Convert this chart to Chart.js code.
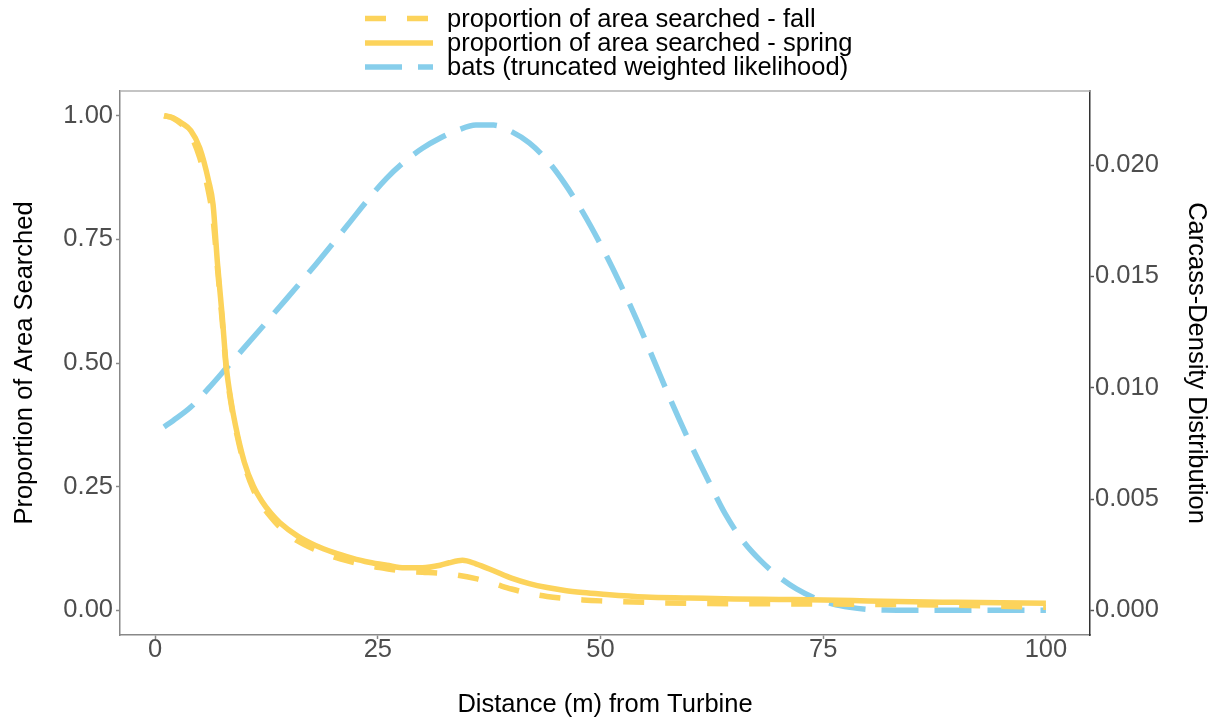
<!DOCTYPE html>
<html>
<head>
<meta charset="utf-8">
<script src="https://cdn.jsdelivr.net/npm/chart.js@4.4.1/dist/chart.umd.min.js"></script>
<style>
  html, body { margin: 0; padding: 0; background: #ffffff; }
  #wrap { width: 1215px; height: 719px; }
</style>
</head>
<body>
<div id="wrap"><canvas id="c" width="1215" height="719"></canvas></div>
<script>
// Proportion of area searched, fall season
const fallDistance   = [1, 2, 3, 4, 5, 6, 6.5, 7, 7.5, 8, 8.5, 9, 10, 11, 12, 13, 14, 16, 18, 20, 22, 24, 26, 28, 30, 32, 34, 36, 38, 40, 42, 44, 46, 48, 50, 55, 60, 70, 80, 90, 95, 100];
const fallProportion = [1.000, 0.995, 0.982, 0.960, 0.915, 0.845, 0.790, 0.690, 0.590, 0.485, 0.420, 0.370, 0.295, 0.245, 0.212, 0.188, 0.168, 0.140, 0.122, 0.108, 0.098, 0.090, 0.084, 0.079, 0.077, 0.075, 0.071, 0.064, 0.054, 0.043, 0.034, 0.028, 0.024, 0.021, 0.019, 0.016, 0.014, 0.013, 0.012, 0.010, 0.008, 0.006];

// Proportion of area searched, spring season
const springDistance   = [1, 2, 3, 4, 5, 6, 6.5, 7, 7.5, 8, 8.5, 9, 10, 11, 12, 13, 14, 16, 18, 20, 22, 24, 26, 28, 30, 32, 33, 34.5, 36, 38, 40, 42, 44, 46, 48, 50, 55, 60, 65, 70, 75, 80, 85, 90, 95, 100];
const springProportion = [1.000, 0.996, 0.985, 0.970, 0.935, 0.868, 0.820, 0.700, 0.600, 0.490, 0.425, 0.375, 0.300, 0.252, 0.220, 0.196, 0.177, 0.150, 0.131, 0.117, 0.106, 0.097, 0.091, 0.086, 0.086, 0.091, 0.096, 0.101, 0.094, 0.080, 0.065, 0.054, 0.046, 0.040, 0.036, 0.033, 0.027, 0.025, 0.023, 0.022, 0.021, 0.019, 0.017, 0.016, 0.015, 0.014];

// Bat carcass-density distribution (truncated weighted likelihood)
const batDistance = [1, 2, 4, 6, 8, 10, 12, 14, 16, 18, 20, 22, 24, 26, 28, 30, 32, 34, 36, 38, 40, 42, 44, 46, 48, 50, 52, 54, 56, 58, 60, 62, 64, 66, 68, 70, 72, 74, 76, 78, 80, 82, 85, 90, 95, 100];
const batDensity  = [0.00824, 0.00852, 0.00913, 0.00998, 0.01089, 0.01180, 0.01272, 0.01365, 0.01458, 0.01553, 0.01651, 0.01751, 0.01851, 0.01942, 0.02016, 0.02076, 0.02122, 0.02158, 0.02180, 0.02180, 0.02151, 0.02100, 0.02022, 0.01916, 0.01789, 0.01644, 0.01484, 0.01311, 0.01122, 0.00933, 0.00756, 0.00591, 0.00433, 0.00311, 0.00222, 0.00151, 0.00096, 0.00056, 0.00029, 0.00013, 0.00004, 0.00001, 0, 0, 0, 0];

// Axis ticks
const distanceTicks   = [0, 25, 50, 75, 100];
const proportionTicks = [0, 0.25, 0.5, 0.75, 1];
const densityTicks    = [0, 0.005, 0.01, 0.015, 0.02];

// Secondary axis: one density unit equals 45 proportion units
const densityToProportion = 45;

const seriesLabels = [
  'proportion of area searched - fall',
  'proportion of area searched - spring',
  'bats (truncated weighted likelihood)'
];

const YELLOW = '#FCD35B';
const BLUE = '#87CEEB';
const FONT = '"Liberation Sans", Arial, sans-serif';
const FONT_SIZE = 25.5;

const toPoints = (xs, ys) => xs.map((x, i) => ({ x: x, y: ys[i] }));

// Stacked legend above the panel, one entry per row
const stackedLegend = {
  id: 'stackedLegend',
  afterDraw(chart) {
    const ctx = chart.ctx;
    const rows = [18.5, 43, 67];
    chart.data.datasets.forEach((ds, i) => {
      const y = rows[i];
      ctx.save();
      ctx.strokeStyle = ds.borderColor;
      ctx.lineWidth = ds.borderWidth;
      ctx.lineCap = 'butt';
      ctx.setLineDash(ds.borderDash || []);
      ctx.beginPath();
      ctx.moveTo(365, y);
      ctx.lineTo(433, y);
      ctx.stroke();
      ctx.setLineDash([]);
      ctx.fillStyle = '#000000';
      ctx.font = FONT_SIZE + 'px ' + FONT;
      ctx.textBaseline = 'middle';
      ctx.textAlign = 'left';
      ctx.fillText(ds.label, 447, y + 1);
      ctx.restore();
    });
  }
};

// Top edge of the panel box
const panelTop = {
  id: 'panelTop',
  afterDraw(chart) {
    const { ctx, chartArea } = chart;
    ctx.save();
    ctx.strokeStyle = '#b0b0b0';
    ctx.lineWidth = 1.5;
    ctx.beginPath();
    ctx.moveTo(chartArea.left, chartArea.top);
    ctx.lineTo(chartArea.right, chartArea.top);
    ctx.stroke();
    ctx.restore();
  }
};

const tickFont = { family: FONT, size: FONT_SIZE };
const titleFont = { family: FONT, size: FONT_SIZE };

new Chart(document.getElementById('c'), {
  type: 'line',
  data: {
    datasets: [
      {
        label: seriesLabels[0],
        data: toPoints(fallDistance, fallProportion),
        borderColor: YELLOW,
        borderWidth: 5.5,
        borderDash: [21, 21],
        borderCapStyle: 'butt',
        cubicInterpolationMode: 'monotone',
        pointRadius: 0,
        yAxisID: 'y',
        order: 1
      },
      {
        label: seriesLabels[1],
        data: toPoints(springDistance, springProportion),
        borderColor: YELLOW,
        borderWidth: 5.5,
        borderCapStyle: 'butt',
        cubicInterpolationMode: 'monotone',
        pointRadius: 0,
        yAxisID: 'y',
        order: 2
      },
      {
        label: seriesLabels[2],
        data: toPoints(batDistance, batDensity),
        borderColor: BLUE,
        borderWidth: 5.5,
        borderDash: [37, 16],
        borderCapStyle: 'butt',
        cubicInterpolationMode: 'monotone',
        pointRadius: 0,
        yAxisID: 'y1',
        order: 3
      }
    ]
  },
  options: {
    responsive: false,
    animation: false,
    devicePixelRatio: 1,
    layout: { padding: { top: 91, left: 0, right: 0, bottom: 0 } },
    plugins: {
      legend: { display: false },
      tooltip: { enabled: false }
    },
    scales: {
      x: {
        type: 'linear',
        min: -3.95,
        max: 104.95,
        afterFit(scale) { scale.height = 84; },
        afterBuildTicks(scale) { scale.ticks = distanceTicks.map(v => ({ value: v })); },
        ticks: {
          font: tickFont,
          color: '#4d4d4d',
          padding: -4,
          maxRotation: 0,
          callback: v => String(v)
        },
        grid: { drawOnChartArea: false, drawTicks: true, tickLength: 4, color: '#888888', tickWidth: 1.5 },
        border: { display: true, color: '#888888', width: 1.5 },
        title: {
          display: true,
          text: 'Distance (m) from Turbine',
          font: titleFont,
          color: '#000000',
          padding: { top: 0, bottom: -1 }
        }
      },
      y: {
        type: 'linear',
        position: 'left',
        min: -0.05,
        max: 1.05,
        afterFit(scale) { scale.width = 120; },
        afterBuildTicks(scale) { scale.ticks = proportionTicks.map(v => ({ value: v })); },
        ticks: {
          font: tickFont,
          color: '#4d4d4d',
          padding: 3,
          callback: v => Number(v).toFixed(2)
        },
        grid: { drawOnChartArea: false, drawTicks: true, tickLength: 4, color: '#888888', tickWidth: 1.5 },
        border: { display: true, color: '#888888', width: 1.5 },
        title: {
          display: true,
          text: 'Proportion of Area Searched',
          font: titleFont,
          color: '#000000',
          padding: { top: 10, bottom: 0 }
        }
      },
      y1: {
        type: 'linear',
        position: 'right',
        min: -0.05 / densityToProportion,
        max: 1.05 / densityToProportion,
        afterFit(scale) { scale.width = 125; },
        afterBuildTicks(scale) { scale.ticks = densityTicks.map(v => ({ value: v })); },
        ticks: {
          font: tickFont,
          color: '#4d4d4d',
          padding: 1,
          callback: v => Number(v).toFixed(3)
        },
        grid: { drawOnChartArea: false, drawTicks: true, tickLength: 4, color: '#555555', tickWidth: 1.5 },
        border: { display: true, color: '#333333', width: 1.5 },
        title: {
          display: true,
          text: 'Carcass-Density Distribution',
          font: titleFont,
          color: '#000000',
          padding: { top: 4, bottom: 0 }
        }
      }
    }
  },
  plugins: [stackedLegend, panelTop]
});
</script>
</body>
</html>
